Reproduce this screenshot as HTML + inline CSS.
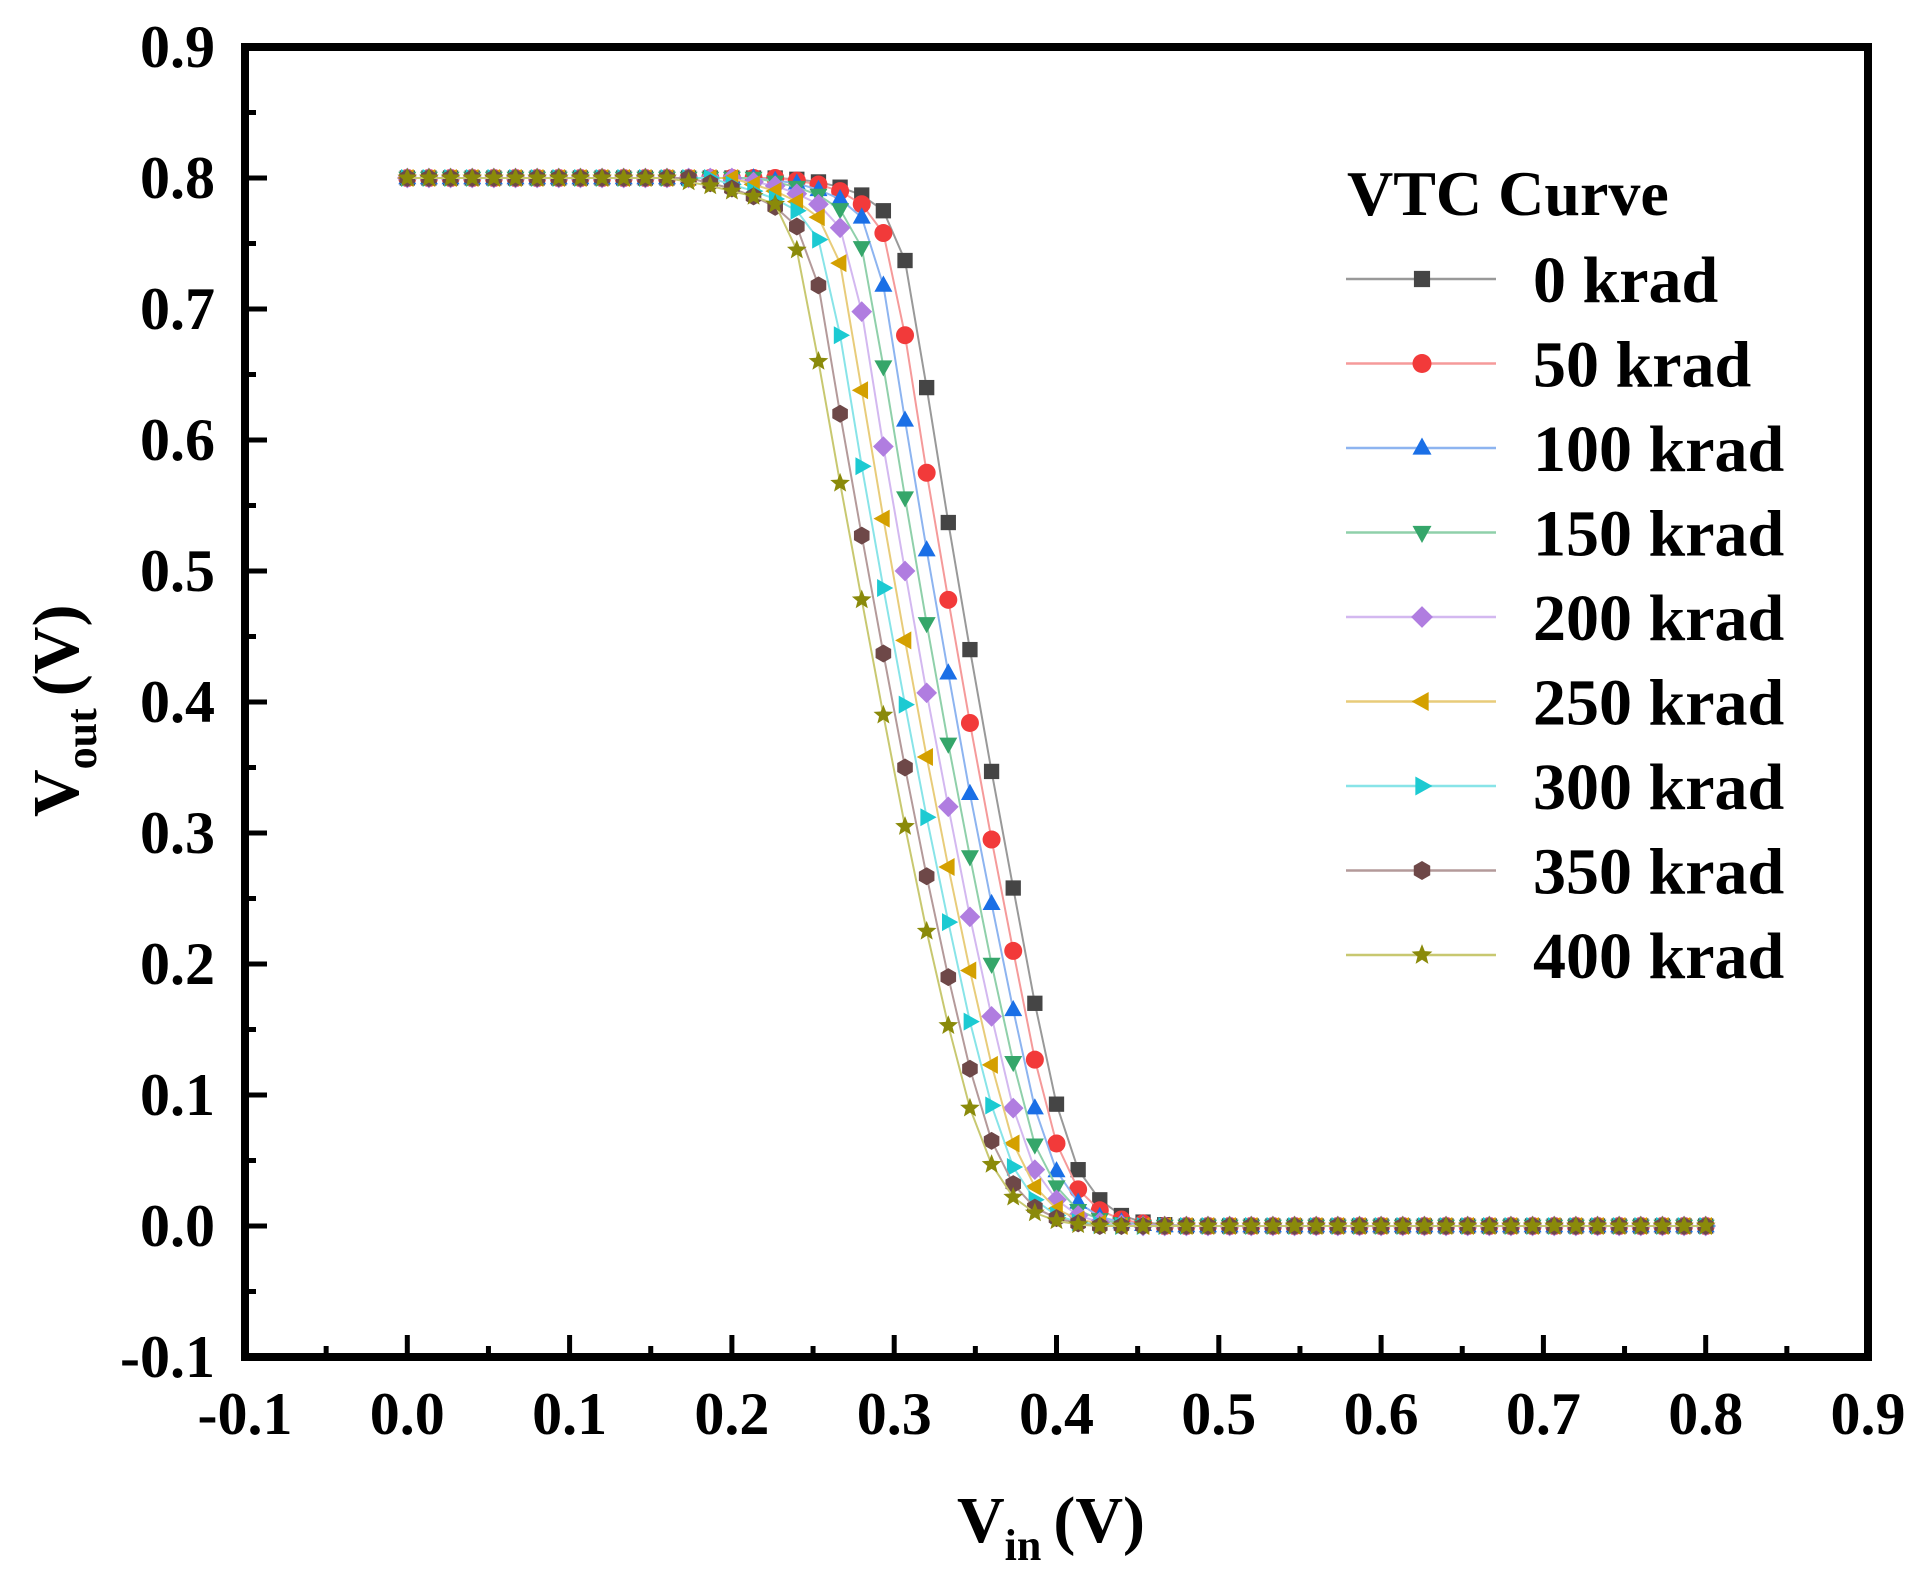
<!DOCTYPE html>
<html><head><meta charset="utf-8"><style>
html,body{margin:0;padding:0;background:#fff;}
svg{display:block;}
text{font-family:"Liberation Serif",serif;font-weight:bold;fill:#000;}
</style></head><body>
<svg id="chart" width="1928" height="1591" viewBox="0 0 1928 1591" xmlns="http://www.w3.org/2000/svg">
<g id="plot"></g>
<g id="axes"></g>
<g id="legend"></g>
</svg>
<script>
const xValues = [];
for (let i = 0; i <= 60; i++) xValues.push(i * 0.8 / 60);
const seriesNames = ["0 krad","50 krad","100 krad","150 krad","200 krad","250 krad","300 krad","350 krad","400 krad"];
const xTicks = ["-0.1","0.0","0.1","0.2","0.3","0.4","0.5","0.6","0.7","0.8","0.9"];
const yTicks = ["-0.1","0.0","0.1","0.2","0.3","0.4","0.5","0.6","0.7","0.8","0.9"];
const s0 = [.8,.8,.8,.8,.8,.8,.8,.8,.8,.8, .8,.8,.8,.8,.8,.8,.8,.8,.799,.797, .793,.787,.775,.737,.64,.537,.44,.347,.258,.17, .093,.043,.02,.008,.003,.001,0,0,0,0, 0,0,0,0,0,0,0,0,0,0, 0,0,0,0,0,0,0,0,0,0,0];
const s1 = [.8,.8,.8,.8,.8,.8,.8,.8,.8,.8, .8,.8,.8,.8,.8,.8,.8,.8,.798,.795, .79,.78,.758,.68,.575,.478,.384,.295,.21,.127, .063,.028,.012,.005,.002,0,0,0,0,0, 0,0,0,0,0,0,0,0,0,0, 0,0,0,0,0,0,0,0,0,0,0];
const s2 = [.8,.8,.8,.8,.8,.8,.8,.8,.8,.8, .8,.8,.8,.8,.8,.8,.8,.798,.796,.791, .784,.77,.718,.615,.516,.422,.33,.246,.165,.09, .042,.018,.007,.003,.001,0,0,0,0,0, 0,0,0,0,0,0,0,0,0,0, 0,0,0,0,0,0,0,0,0,0,0];
const s3 = [.8,.8,.8,.8,.8,.8,.8,.8,.8,.8, .8,.8,.8,.8,.8,.8,.8,.797,.793,.787, .776,.747,.656,.556,.46,.368,.282,.2,.125,.062, .03,.012,.005,.002,0,0,0,0,0,0, 0,0,0,0,0,0,0,0,0,0, 0,0,0,0,0,0,0,0,0,0,0];
const s4 = [.8,.8,.8,.8,.8,.8,.8,.8,.8,.8, .8,.8,.8,.8,.8,.8,.797,.794,.788,.78, .762,.698,.595,.5,.407,.32,.236,.16,.09,.043, .02,.008,.003,.001,0,0,0,0,0,0, 0,0,0,0,0,0,0,0,0,0, 0,0,0,0,0,0,0,0,0,0,0];
const s5 = [.8,.8,.8,.8,.8,.8,.8,.8,.8,.8, .8,.8,.8,.8,.8,.8,.795,.79,.782,.77, .735,.638,.54,.447,.358,.274,.195,.123,.063,.03, .013,.005,.002,0,0,0,0,0,0,0, 0,0,0,0,0,0,0,0,0,0, 0,0,0,0,0,0,0,0,0,0,0];
const s6 = [.8,.8,.8,.8,.8,.8,.8,.8,.8,.8, .8,.8,.8,.8,.8,.795,.79,.784,.775,.753, .68,.58,.487,.398,.312,.232,.156,.092,.045,.02, .008,.003,.001,0,0,0,0,0,0,0, 0,0,0,0,0,0,0,0,0,0, 0,0,0,0,0,0,0,0,0,0,0];
const s7 = [.8,.8,.8,.8,.8,.8,.8,.8,.8,.8, .8,.8,.8,.8,.796,.792,.786,.778,.763,.718, .62,.527,.437,.35,.267,.19,.12,.065,.032,.014, .006,.002,0,0,0,0,0,0,0,0, 0,0,0,0,0,0,0,0,0,0, 0,0,0,0,0,0,0,0,0,0,0];
const s8 = [.8,.8,.8,.8,.8,.8,.8,.8,.8,.8, .8,.8,.8,.797,.794,.79,.786,.78,.745,.66, .567,.478,.39,.305,.225,.153,.09,.047,.022,.01, .004,.001,0,0,0,0,0,0,0,0, 0,0,0,0,0,0,0,0,0,0, 0,0,0,0,0,0,0,0,0,0,0];
const seriesValues = [s0,s1,s2,s3,s4,s5,s6,s7,s8];

const colors = ["#454545","#f23a3a","#1a6fe6","#35a66a","#b07de0","#d4a000","#1ccad2","#6e4848","#8a8a0a"];
const lineColors = ["#999999","#f59a9a","#8db4f0","#8fd0aa","#d3b8f0","#e8cc7a","#88e4e8","#b49a9a","#c8c870"];
const shapes = ["square","circle","up","down","diamond","left","right","hexagon","star"];

const NS = "http://www.w3.org/2000/svg";
const X0 = 245, X1 = 1868, Y0 = 1357, Y1 = 47;
const xs = v => X0 + (v + 0.1) / 1.0 * (X1 - X0);
const ys = v => Y0 - (v + 0.1) / 1.0 * (Y0 - Y1);
function mk(tag, attrs, parent) {
  const e = document.createElementNS(NS, tag);
  for (const k in attrs) e.setAttribute(k, attrs[k]);
  parent.appendChild(e);
  return e;
}
function markerPath(shape, x, y, r) {
  const pts = [];
  if (shape === "square") return `M${x-r*0.85},${y-r*0.85}h${1.7*r}v${1.7*r}h${-1.7*r}Z`;
  if (shape === "up") return `M${x},${y-r*1.1}L${x+r},${y+r*0.7}L${x-r},${y+r*0.7}Z`;
  if (shape === "down") return `M${x},${y+r*1.1}L${x+r},${y-r*0.7}L${x-r},${y-r*0.7}Z`;
  if (shape === "left") return `M${x-r*1.1},${y}L${x+r*0.7},${y-r}L${x+r*0.7},${y+r}Z`;
  if (shape === "right") return `M${x+r*1.1},${y}L${x-r*0.7},${y-r}L${x-r*0.7},${y+r}Z`;
  if (shape === "diamond") return `M${x},${y-r*1.15}L${x+r*1.15},${y}L${x},${y+r*1.15}L${x-r*1.15},${y}Z`;
  if (shape === "hexagon") { for (let k=0;k<6;k++){const a=Math.PI/3*k+Math.PI/6; pts.push((x+r*Math.cos(a))+","+(y+r*Math.sin(a)));} return "M"+pts.join("L")+"Z"; }
  if (shape === "star") { for (let k=0;k<10;k++){const a=-Math.PI/2+Math.PI/5*k; const rr=k%2?r*0.5:r*1.15; pts.push((x+rr*Math.cos(a))+","+(y+rr*Math.sin(a)));} return "M"+pts.join("L")+"Z"; }
  return "";
}
function drawMarker(shape, x, y, r, color, parent) {
  let e;
  if (shape === "circle") e = mk("circle", {cx:x, cy:y, r:r}, parent);
  else e = mk("path", {d: markerPath(shape, x, y, r)}, parent);
  e.setAttribute("fill", color);
  return e;
}

const plot = document.getElementById("plot");
seriesValues.forEach((vals, si) => {
  const g = mk("g", {}, plot);
  
  
  const d = vals.map((v, i) => (i ? "L" : "M") + xs(xValues[i]) + "," + ys(v)).join("");
  const line = mk("path", {d: d, fill: "none", stroke: lineColors[si], "stroke-width": 2}, g);
  
  
  vals.forEach((v, i) => {
    const m = drawMarker(shapes[si], xs(xValues[i]), ys(v), 9, colors[si], g);
    
    
  });
});

const axes = document.getElementById("axes");
const frame = mk("rect", {x: X0, y: Y1, width: X1 - X0, height: Y0 - Y1, fill: "none", stroke: "#000", "stroke-width": 8}, axes);


xTicks.forEach((t, i) => {
  const v = parseFloat(t), x = xs(v);
  const tk = mk("line", {x1: x, x2: x, y1: Y0, y2: Y0 - 22, stroke: "#000", "stroke-width": 5}, axes);
  
  
  if (i < xTicks.length - 1) {
    const xm = xs(v + 0.05);
    const mt = mk("line", {x1: xm, x2: xm, y1: Y0, y2: Y0 - 11, stroke: "#000", "stroke-width": 5}, axes);
    
    
  }
  const lb = mk("text", {x: x, y: 1434, "text-anchor": "middle", "font-size": 60}, axes);
  lb.textContent = t;
  
  
});
yTicks.forEach((t, i) => {
  const v = parseFloat(t), y = ys(v);
  const tk = mk("line", {x1: X0, x2: X0 + 22, y1: y, y2: y, stroke: "#000", "stroke-width": 5}, axes);
  
  
  if (i < yTicks.length - 1) {
    const ym = ys(v + 0.05);
    const mt = mk("line", {x1: X0, x2: X0 + 11, y1: ym, y2: ym, stroke: "#000", "stroke-width": 5}, axes);
    
    
  }
  const lb = mk("text", {x: 215, y: y + 20, "text-anchor": "end", "font-size": 60}, axes);
  lb.textContent = t;
  
  
});

const legend = document.getElementById("legend");
const title = mk("text", {x: 1347, y: 215, "font-size": 64}, legend);
title.textContent = "VTC Curve";


seriesNames.forEach((n, si) => {
  const y = 279 + si * 84.5;
  const g = mk("g", {}, legend);
  
  
  mk("line", {x1: 1346, x2: 1496, y1: y, y2: y, stroke: lineColors[si], "stroke-width": 2.5}, g);
  drawMarker(shapes[si], 1422, y, 9.5, colors[si], g);
  const tx = mk("text", {x: 1533, y: y + 23, "font-size": 66}, g);
  tx.textContent = n;
});
</script>
<svg style="position:absolute;left:0;top:0" width="1928" height="1591">
<text x="957" y="1542" font-size="66" style="font-family:'Liberation Serif',serif;font-weight:bold">V<tspan font-size="44" dy="18">in</tspan><tspan dy="-18" dx="12">(V)</tspan></text>
<text transform="translate(78,817) rotate(-90)" font-size="66" style="font-family:'Liberation Serif',serif;font-weight:bold">V<tspan font-size="44" dy="18">out</tspan><tspan dy="-18" dx="12">(V)</tspan></text>
</svg>
</body></html>
